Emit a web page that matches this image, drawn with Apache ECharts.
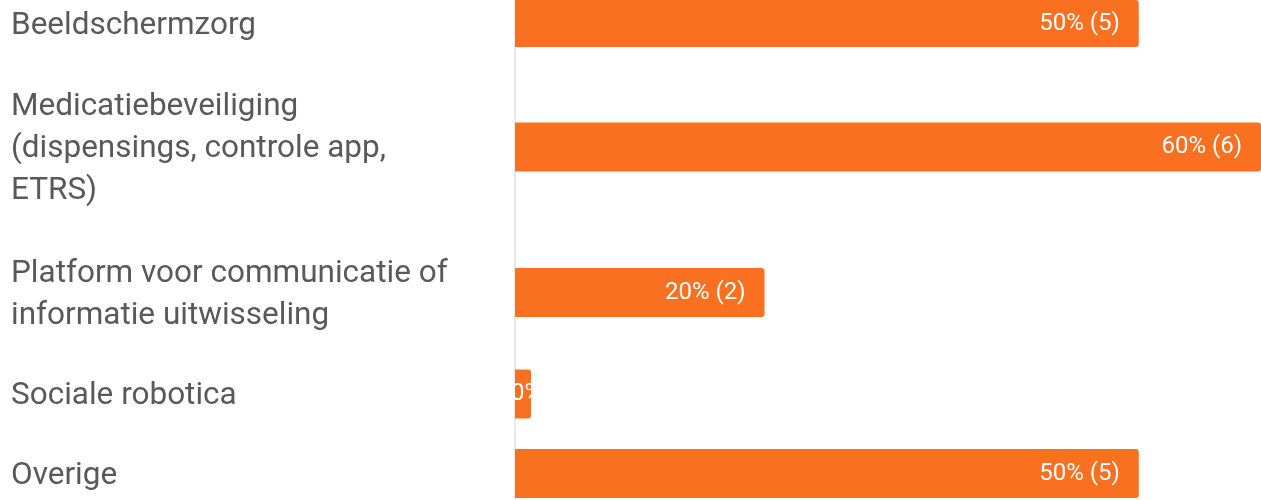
<!DOCTYPE html>
<html>
<head>
<meta charset="utf-8">
<style>
    html, body {margin: 0; padding: 0; background: #fff;}
    #chart {width: 1261px; height: 500px;}
</style>
<script src="https://cdn.jsdelivr.net/npm/echarts@6/dist/echarts.min.js"></script>
</head>
<body>
<div id="chart"></div>
<script>
// data
var categories = [
    'Beeldschermzorg',
    'Medicatiebeveiliging\n(dispensings, controle app,\nETRS)',
    'Platform voor communicatie of\ninformatie uitwisseling',
    'Sociale robotica',
    'Overige'
];
var percents = [50, 60, 20, 0, 50];
var counts = [5, 6, 2, 0, 5];

(function (w, d) {
    var el = d.getElementById('chart');
    var H = el.clientHeight;
    var lineH = 42;       // regelhoogte tekst
    var rowUnit = 44;     // rijhoogte per tekstregel
    var rowPad = 35.5;    // extra ruimte per rij
    var curTop = -16.25;  // bovenkant is afgesneden
    var xMax = 59.8;      // 60% loopt net buiten beeld

    var grids = [], xAxes = [], yAxes = [], series = [];

    //elke categorie een eigen grid, hoogte hangt af van aantal regels
    for (var i = 0; i < categories.length; i++) {
        var lines = categories[i].split('\n').length;
        var h = lines * rowUnit + rowPad;
        var gTop = curTop, gH = h;
        //grid wordt geklemd binnen de canvas, dus symmetrisch inkorten
        if (gTop < 0) {
            gH = gH + 2 * gTop;
            gTop = 0;
        }
        if (gTop + gH > H) {
            var over = gTop + gH - H;
            gTop = gTop + over;
            gH = gH - 2 * over;
        }
        grids.push({left: 515, right: 0, top: gTop, height: gH});
        xAxes.push({type: 'value', gridIndex: i, min: 0, max: xMax, show: false});
        yAxes.push({
            type: 'category',
            gridIndex: i,
            data: [categories[i]],
            axisLine: {show: false},
            axisTick: {show: false},
            splitLine: {show: false},
            axisLabel: {
                align: 'left',
                margin: 504,
                formatter: function (v) {
                    //tekst iets omlaag, zoals in het origineel
                    return '{t|' + v.split('\n').join('}\n{t|') + '}';
                },
                rich: {
                    t: {
                        fontSize: 31.5,
                        lineHeight: lineH,
                        padding: [5, 0, 0, 0],
                        color: '#595959',
                        fontFamily: 'Roboto'
                    }
                }
            }
        });
        var item = {value: percents[i], count: counts[i]};
        if (percents[i] === 0) {
            //te kort voor label binnenin
            item.label = {position: 'insideLeft', distance: -4};
        }
        series.push({
            type: 'bar',
            xAxisIndex: i,
            yAxisIndex: i,
            data: [item],
            barWidth: 49,
            barMinHeight: 16,
            z: 3,
            itemStyle: {color: '#fa7021', borderRadius: [0, 3, 3, 0]},
            label: {
                show: true,
                position: 'insideRight',
                distance: 19,
                color: '#fff',
                fontSize: 24,
                fontFamily: 'Roboto',
                formatter: function (p) {
                    return p.value + '% (' + p.data.count + ')';
                }
            }
        });
        curTop += h;
    }

    //doorlopende verticale aslijn over de hele hoogte
    grids.push({left: 515, right: 0, top: 0, bottom: 0});
    xAxes.push({type: 'value', gridIndex: categories.length, show: false});
    yAxes.push({
        type: 'category',
        gridIndex: categories.length,
        data: [''],
        axisLine: {show: true, lineStyle: {color: '#e0e0e0', width: 1.5}},
        axisTick: {show: false},
        axisLabel: {show: false},
        splitLine: {show: false}
    });

    var chart = echarts.init(el);
    chart.setOption({
        animation: false,
        backgroundColor: '#fff',
        grid: grids,
        xAxis: xAxes,
        yAxis: yAxes,
        series: series
    });
})(window, document);
</script>
</body>
</html>
